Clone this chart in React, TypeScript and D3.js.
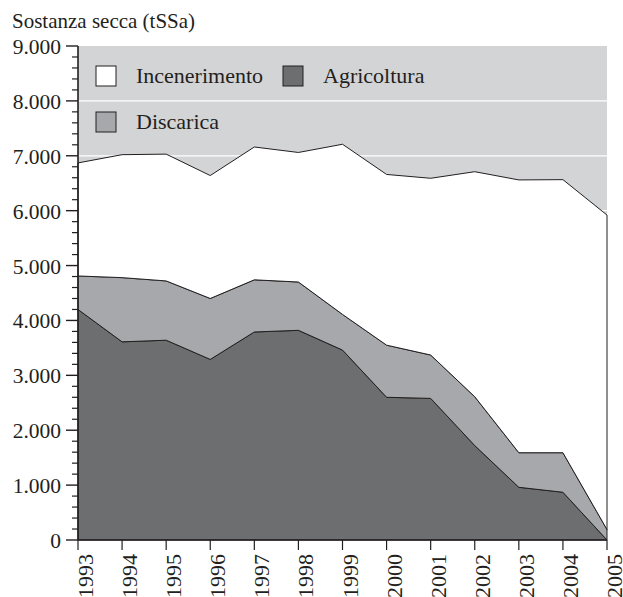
import React from "react";
import * as d3 from "d3";

const years = [1993, 1994, 1995, 1996, 1997, 1998, 1999, 2000, 2001, 2002, 2003, 2004, 2005];
const agricoltura = [4200, 3610, 3640, 3290, 3790, 3820, 3460, 2600, 2580, 1720, 960, 870, 0];
const discarica = [610, 1170, 1080, 1110, 950, 880, 650, 950, 790, 890, 630, 720, 190];
const incenerimento = [2060, 2240, 2310, 2240, 2420, 2360, 3100, 3110, 3220, 4100, 4970, 4975, 5730];
const yTicks = [0, 1000, 2000, 3000, 4000, 5000, 6000, 7000, 8000, 9000];
const seriesNames = ["Agricoltura", "Discarica", "Incenerimento"];
const seriesColors = ["#6d6e70", "#a7a8ab", "#ffffff"];

const W = 623, H = 597;
const left = 78, right = 607, top = 46, bottom = 540;
const font = "'Liberation Serif', 'Times New Roman', serif";
const ink = "#231f20";

export default function App() {
  const x = d3.scaleLinear().domain([1993, 2005]).range([left, right]);
  const y = d3.scaleLinear().domain([0, 9000]).range([bottom, top]);
  const rows = years.map((yr, i) => ({
    year: yr,
    Agricoltura: agricoltura[i],
    Discarica: discarica[i],
    Incenerimento: incenerimento[i],
  }));
  const stack = d3.stack<any>().keys(seriesNames)(rows);
  const area = d3
    .area<any>()
    .x((d) => x(d.data.year))
    .y0((d) => y(d[0]))
    .y1((d) => y(d[1]));
  const minorTicks = d3.range(0, 9001, 200).filter((v) => v % 1000 !== 0);
  const fmt = (v: number) => (v === 0 ? "0" : d3.format(",")(v).replace(/,/g, "."));

  return (
    <svg width={W} height={H} style={{ position: "absolute", left: 0, top: 0 }}>
      <rect x={0} y={0} width={W} height={H} fill="#fff" />
      <rect x={left} y={top} width={right - left} height={bottom - top} fill="#d3d4d6" />
      {yTicks.slice(1, -1).map((t) => (
        <line key={t} x1={left} x2={right} y1={y(t)} y2={y(t)} stroke="#fff" strokeWidth={1.2} />
      ))}
      {stack.map((s, i) => (
        <path key={seriesNames[i]} d={area(s) || ""} fill={seriesColors[i]} stroke={ink} strokeWidth={1} strokeLinejoin="round" />
      ))}
      {/* axes */}
      <line x1={left} x2={left} y1={top} y2={bottom} stroke={ink} strokeWidth={1.6} />
      <line x1={left} x2={right} y1={bottom} y2={bottom} stroke={ink} strokeWidth={1.6} />
      {yTicks.map((t) => (
        <g key={t}>
          <line x1={left - 12} x2={left} y1={y(t)} y2={y(t)} stroke={ink} strokeWidth={1.4} />
          <text x={61} y={y(t) + 8} textAnchor="end" fontFamily={font} fontSize={21.5} fill={ink}>
            {fmt(t)}
          </text>
        </g>
      ))}
      {minorTicks.map((t) => (
        <line key={t} x1={left - 6} x2={left} y1={y(t)} y2={y(t)} stroke={ink} strokeWidth={1.2} />
      ))}
      {years.map((yr) => (
        <g key={yr}>
          <line x1={x(yr)} x2={x(yr)} y1={bottom} y2={bottom + 10} stroke={ink} strokeWidth={1.2} />
          <text
            transform={`translate(${x(yr)},${554}) rotate(-90)`}
            y={15}
            textAnchor="end"
            fontFamily={font}
            fontSize={22}
            fill={ink}
          >
            {yr}
          </text>
        </g>
      ))}
      <text x={12} y={28} fontFamily={font} fontSize={21} fill={ink}>
        Sostanza secca (tSSa)
      </text>
      {/* legend */}
      {[
        { name: "Incenerimento", color: seriesColors[2], sx: 96, sy: 66 },
        { name: "Agricoltura", color: seriesColors[0], sx: 283, sy: 66 },
        { name: "Discarica", color: seriesColors[1], sx: 96, sy: 112 },
      ].map((l) => (
        <g key={l.name}>
          <rect x={l.sx} y={l.sy} width={20} height={20} fill={l.color} stroke={ink} strokeWidth={1} />
          <text x={l.sx + 40} y={l.sy + 17} fontFamily={font} fontSize={22} fill={ink}>
            {l.name}
          </text>
        </g>
      ))}
    </svg>
  );
}
